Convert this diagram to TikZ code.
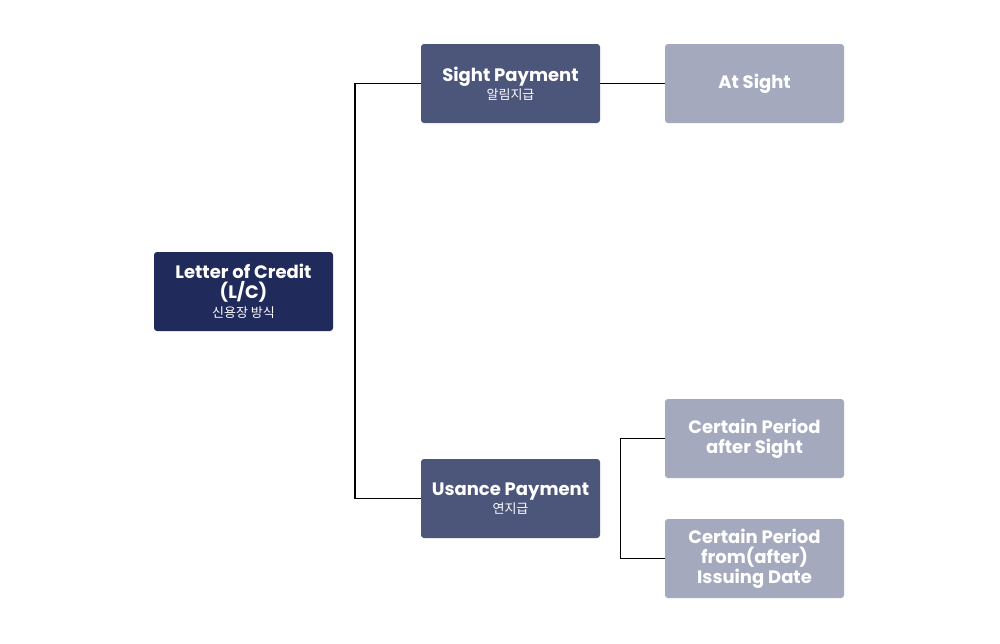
\documentclass[tikz,border=0pt]{standalone}
\usepackage{fontspec}
\setmainfont{Poppins}
\newfontfamily\kr{Noto Sans CJK KR}
\definecolor{rootc}{HTML}{212B5B}
\definecolor{midc}{HTML}{4C557A}
\definecolor{leafc}{HTML}{A4A9BD}
\tikzset{
  box/.style={rounded corners=3pt, minimum width=179pt, minimum height=79pt, text=white,
    align=center, inner sep=0pt, font=\bfseries\fontsize{18}{20}\selectfont},
  rootbox/.style={box, fill=rootc},
  midbox/.style={box, fill=midc},
  leafbox/.style={box, fill=leafc},
  thickline/.style={line width=1.6pt, black},
  thinline/.style={line width=1pt, black}
}
\newcommand{\krsub}[1]{{\kr\mdseries\fontsize{13}{15}\selectfont #1}}
\begin{document}
\begin{tikzpicture}[x=1pt,y=-1pt]
\useasboundingbox (0,0) rectangle (1000,643);
\node[rootbox] (root) at (243.5,291.5) {Letter of Credit\\(L/C)\\[-1pt]\krsub{신용장 방식}};
\node[midbox] (sight) at (510.5,83.5) {Sight Payment\\[-2pt]\krsub{알림지급}};
\node[midbox] (usance) at (510.5,498.5) {Usance Payment\\[-2pt]\krsub{연지급}};
\node[leafbox] (at) at (754.5,83.5) {\raisebox{-2pt}{At Sight}};
\node[leafbox] (c1) at (754.5,438.5) {Certain Period\\after Sight};
\node[leafbox] (c2) at (754.5,558.5) {Certain Period\\from(after)\\Issuing Date};
\draw[thickline] (sight.west) -- ++(-66,0) |- (usance.west);
\draw[thinline] (sight.east) -- (at.west);
\draw[thinline] (c1.west) -- ++(-44,0) |- (c2.west);
\end{tikzpicture}
\end{document}
